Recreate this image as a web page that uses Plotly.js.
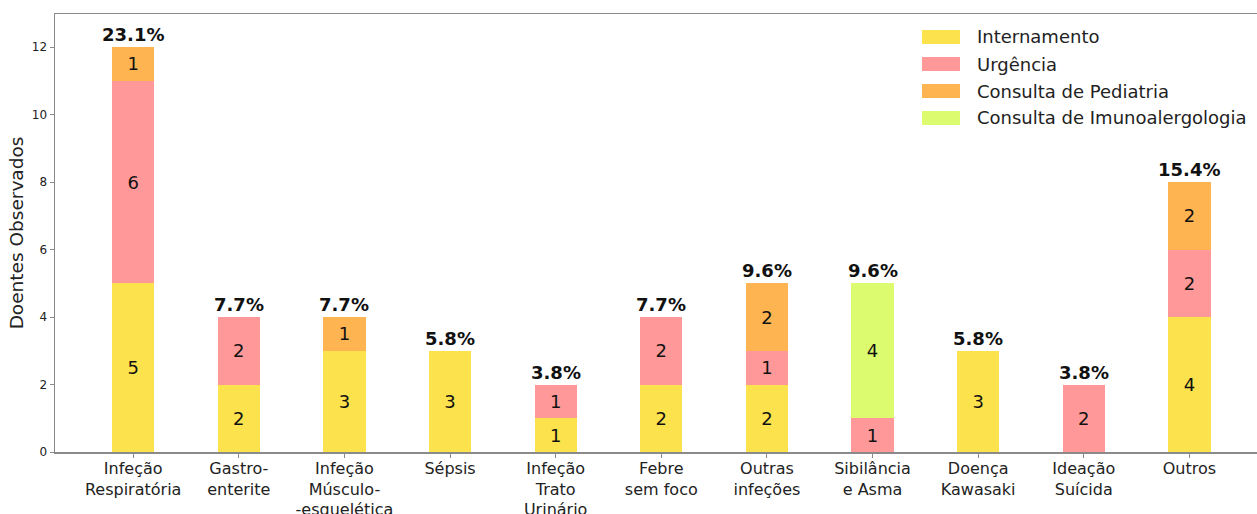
<!DOCTYPE html>
<html>
<head>
<meta charset="utf-8">
<script src="https://cdn.plot.ly/plotly-3.0.1.min.js"></script>
<style>html,body{margin:0;padding:0;overflow:hidden;background:#fff}</style>
</head>
<body>
<div id="chart" style="width:1257px;height:514px"></div>
<script>
const categories = ["Infeção<br>Respiratória", "Gastro-<br>enterite", "Infeção<br>Músculo-<br>-esquelética", "Sépsis", "Infeção<br>Trato<br>Urinário", "Febre<br>sem foco", "Outras<br>infeções", "Sibilância<br>e Asma", "Doença<br>Kawasaki", "Ideação<br>Suícida", "Outros"];
const internamento = [5, 2, 3, 3, 1, 2, 2, 0, 3, 0, 4];
const urgencia = [6, 2, 0, 0, 1, 2, 1, 1, 0, 2, 2];
const pediatria = [1, 0, 1, 0, 0, 0, 2, 0, 0, 0, 2];
const imuno = [0, 0, 0, 0, 0, 0, 0, 4, 0, 0, 0];
const seriesNames = ["Internamento", "Urgência", "Consulta de Pediatria", "Consulta de Imunoalergologia"];
const colors = ["#fce24c", "#ff9999", "#ffb452", "#dcfb6e"];

const xs = categories.map((c, i) => i);
const allSeries = [internamento, urgencia, pediatria, imuno];
const traces = allSeries.map((vals, k) => ({
  type: 'bar',
  name: seriesNames[k],
  x: xs,
  y: vals,
  width: 0.4,
  marker: {color: colors[k], line: {width: 0}},
  text: vals.map(v => v > 0 ? String(v) : ''),
  textposition: 'inside',
  insidetextanchor: 'middle',
  textangle: 0,
  constraintext: 'none',
  textfont: {family: 'DejaVu Sans', size: 18, color: '#111'},
  hoverinfo: 'skip',
  showlegend: false
}));

const totals = xs.map(i => allSeries.reduce((s, a) => s + a[i], 0));
const grand = totals.reduce((a, b) => a + b, 0);
const annotations = xs.map(i => ({
  x: i, y: totals[i], xref: 'x', yref: 'y',
  text: (100 * totals[i] / grand).toFixed(1) + '%',
  showarrow: false, yanchor: 'bottom', yshift: 0,
  font: {family: 'DejaVu Sans', size: 18, color: '#111', weight: 'bold'}
}));

// custom legend (wide swatches like the reference)
const legY = [0.9475, 0.8858, 0.8242, 0.7626];
const shapes = [];
seriesNames.forEach((n, k) => {
  shapes.push({type: 'rect', xref: 'paper', yref: 'paper', x0: 0.7213, x1: 0.7529,
    y0: legY[k] - 0.016, y1: legY[k] + 0.016, fillcolor: colors[k], line: {width: 0}});
  annotations.push({xref: 'paper', yref: 'paper', x: 0.7654, y: legY[k], text: n,
    showarrow: false, xanchor: 'left', yanchor: 'middle',
    font: {family: 'DejaVu Sans', size: 18, color: '#222'}});
});

const layout = {
  width: 1257, height: 514,
  margin: {l: 55, r: 0, t: 14, b: 62},
  barmode: 'stack',
  plot_bgcolor: '#fff', paper_bgcolor: '#fff',
  font: {family: 'DejaVu Sans', color: '#222'},
  showlegend: false,
  xaxis: {
    range: [-0.74, 10.64],
    tickmode: 'array', tickvals: xs, ticktext: categories,
    tickfont: {size: 16, color: '#222'},
    ticklabelstandoff: -3,
    showline: true, linecolor: '#8a8a8a', linewidth: 1.5, mirror: true,
    ticks: 'outside', ticklen: 4, tickcolor: '#8a8a8a',
    showgrid: false, zeroline: false
  },
  yaxis: {
    range: [0, 12.98],
    tickvals: [0, 2, 4, 6, 8, 10, 12],
    tickfont: {size: 12, color: '#222'},
    showline: true, linecolor: '#8a8a8a', linewidth: 1.5,
    ticks: 'outside', ticklen: 4, tickcolor: '#8a8a8a',
    showgrid: false, zeroline: false,
    title: {text: 'Doentes Observados', font: {size: 18.5, color: '#222'}, standoff: 3}
  },
  shapes: shapes,
  annotations: annotations
};

Plotly.newPlot('chart', traces, layout, {displayModeBar: false, staticPlot: true});
</script>
</body>
</html>
